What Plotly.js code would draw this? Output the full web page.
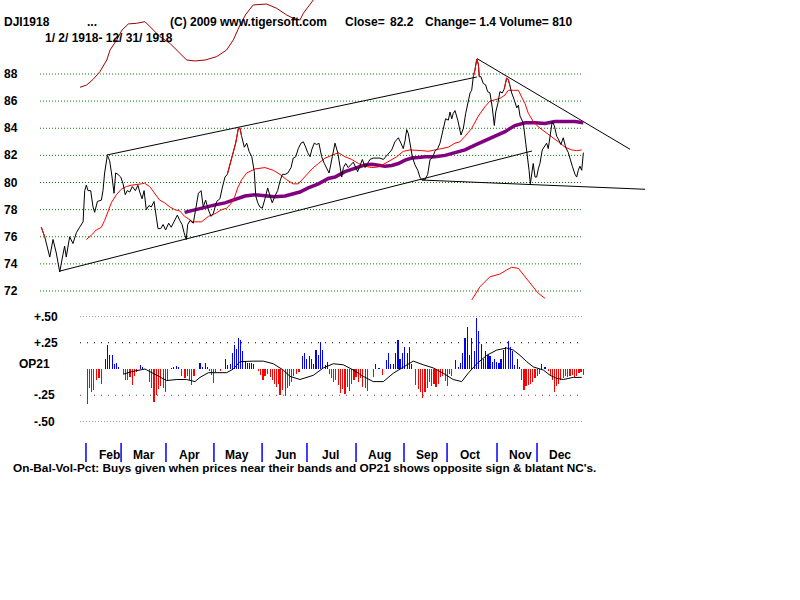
<!DOCTYPE html>
<html>
<head>
<meta charset="utf-8">
<script src="https://cdn.plot.ly/plotly-3.0.1.min.js"></script>
<style>html,body{margin:0;padding:0;background:#fff;}#chart{width:800px;height:600px;}</style>
</head>
<body>
<div id="chart"></div>
<script>
// ---- DATA (x = trading-day number in 1918, 0 = Jan 2) ----
const priceDay = [0.7,2.6,5.4,7.2,9.0,10.9,12.7,13.6,14.5,16.4,
18.2,20.1,21.9,23.8,24.7,25.6,26.5,28.0,29.3,30.2,
31.7,33.9,34.8,35.7,37.2,38.5,39.8,40.9,41.8,43.1,
44.6,45.9,47.1,48.2,49.6,51.0,52.7,54.1,55.1,56.4,
57.5,58.7,60.2,61.5,63.0,64.3,65.2,66.7,68.0,69.4,
71.1,72.5,74.4,75.9,77.2,78.5,79.6,80.8,81.6,82.9,
84.7,86.6,87.5,89.0,90.2,91.5,93.0,94.5,95.7,97.6,
99.4,100.7,102.2,103.5,105.0,106.8,108.1,109.6,110.5,111.4,
112.9,114.2,115.5,117.0,118.4,119.2,120.3,121.5,122.8,124.3,
125.8,127.1,128.3,129.8,131.3,132.6,133.9,135.4,136.9,138.7,
139.9,141.3,142.7,144.2,145.5,146.8,147.9,149.2,150.1,151.5,
152.9,154.1,155.6,157.1,158.4,159.7,161.5,163.0,164.5,165.7,
166.7,167.6,168.9,170.3,171.8,173.1,175.5,176.8,178.1,179.6,
181.0,182.3,184.1,187.8,189.7,191.0,194.3,196.1,198.0,199.4,
200.7,201.7,202.6,203.5,205.7,207.2,208.7,209.9,210.9,212.7,
214.2,215.5,216.7,218.2,219.7,221.0,222.3,223.4,224.1,225.6,
226.5,227.5,228.3,229.3,230.8,232.6,233.9,235.2,236.6,237.6,
238.5,239.4,240.3,241.3,242.2,242.7,243.6,244.9,246.2,247.3,
248.6,249.9,251.0,251.8,252.9,254.1,255.4,256.5,257.8,258.7,
259.7,260.6,262.0,263.4,264.3,265.2,267.0,268.3,269.4,270.2,
270.9,271.7,272.5,273.5,274.4,275.3,276.2,277.5,278.6,279.9,
280.8,281.8,283.0,284.1,285.5,286.4,287.8,289.1,290.4,291.9,
292.8,294.1,295.6,296.5,297.4,298.3,299.3,300.2];
const price = [76.7,76.0,74.5,75.8,74.8,73.4,74.7,75.3,74.5,76.0,
75.5,76.3,76.7,77.1,79.4,79.8,79.4,79.4,78.2,77.8,
78.6,78.7,79.4,80.7,82.0,81.6,80.4,79.2,80.7,80.6,
80.4,79.9,79.1,79.4,79.3,79.7,79.4,79.8,79.3,78.8,
79.4,78.0,78.3,78.2,78.6,77.6,76.6,76.6,76.9,76.5,
77.0,76.7,77.2,77.6,77.2,76.9,76.3,75.8,76.9,77.2,
77.0,78.5,79.2,79.4,78.2,78.7,78.0,77.5,77.7,78.6,
78.8,79.6,80.4,80.6,81.4,82.2,82.9,84.0,84.0,83.4,
82.6,82.9,82.3,81.9,80.8,79.0,78.5,78.2,78.1,78.8,
79.6,79.0,78.5,79.0,79.4,80.1,80.6,80.6,80.7,81.1,
81.8,81.9,82.5,82.9,83.0,82.6,82.2,81.9,82.4,82.9,
82.8,82.9,81.9,81.4,81.1,80.7,81.9,82.9,82.2,81.3,
80.4,81.1,81.4,81.1,81.3,81.5,80.8,81.2,81.7,81.1,
81.4,81.7,81.8,81.8,81.7,81.9,82.4,83.0,83.3,82.9,
82.5,83.1,83.9,83.6,81.9,81.3,80.9,80.4,80.2,80.2,
80.6,81.7,81.8,82.3,82.5,82.9,83.6,84.4,84.7,84.6,
85.2,84.7,85.1,85.3,84.6,83.5,84.0,85.1,86.1,86.6,
86.8,87.8,88.3,89.1,88.7,87.8,87.8,87.3,87.2,86.7,
86.6,85.5,84.2,85.2,85.8,86.7,86.6,86.9,87.7,87.6,
87.1,86.6,86.1,85.5,85.7,84.9,84.4,83.1,81.9,80.9,
79.9,80.7,81.4,80.4,80.4,81.0,81.4,82.4,82.6,82.9,
82.5,83.4,84.5,84.2,83.4,83.2,82.8,83.3,82.6,82.2,
81.7,81.2,80.6,80.4,80.9,81.2,80.9,82.2];
// periods where the close is drawn in red (outside the band)
const redPeriods = [[0.7,2.6],[103.5,111.4],[239.4,242.7],[256.5,259.7]];

const ma21Day = [25.6,28.3,31.1,33.9,35.7,37.6,39.4,42.2,44.9,47.7,
50.4,56.0,57.8,60.6,63.4,66.1,68.9,71.7,74.4,77.2,
79.9,84.5,89.3,93.0,96.7,100.4,103.1,105.9,107.7,109.2,
111.4,114.2,118.8,124.3,128.9,132.6,136.3,139.9,142.7,145.5,
148.2,151.0,153.8,157.5,161.2,164.8,168.5,172.2,175.9,179.6,
183.3,186.9,190.6,194.3,197.1,200.7,204.4,210.9,214.5,218.2,
221.9,225.6,229.3,232.0,234.8,238.5,242.2,245.9,248.6,251.4,
254.1,256.9,258.7,261.5,264.3,266.1,268.0,269.8,272.5,275.3,
279.0,282.7,286.4,290.1,293.8,296.5,299.3];
const ma21 = [75.8,76.1,76.5,76.7,77.2,77.8,78.5,79.1,79.5,79.7,
79.8,79.9,79.95,79.7,79.2,78.7,78.5,78.2,78.0,77.9,
77.5,77.1,77.1,77.5,77.7,78.0,78.1,78.5,79.0,79.6,
80.2,80.7,81.0,81.1,80.9,80.6,80.2,79.9,79.9,80.3,
80.7,81.1,81.4,81.8,82.0,82.2,81.9,81.7,81.4,81.2,
81.1,81.15,81.4,81.7,81.9,82.3,82.4,82.35,82.3,82.4,
82.5,82.6,82.9,83.0,83.4,84.0,84.9,85.6,86.0,86.1,
86.2,86.45,86.8,86.8,86.8,86.3,85.8,85.1,84.5,84.1,
83.75,83.4,83.0,82.6,82.4,82.35,82.4];

const ma50Day = [79.9,85.6,91.2,96.7,102.2,107.7,113.3,118.8,124.3,129.8,
135.4,139.1,143.6,148.2,153.8,159.3,163.0,168.5,174.0,179.6,
183.3,186.9,190.6,194.3,198.0,201.7,205.4,209.0,212.7,218.2,
223.8,229.3,234.8,240.3,245.9,251.4,256.9,262.4,268.0,273.5,
279.0,284.5,290.1,295.6,300.2];
const ma50 = [77.8,78.0,78.15,78.35,78.5,78.75,79.0,79.1,79.0,78.95,
79.0,79.15,79.3,79.6,79.9,80.3,80.4,80.8,81.05,81.3,
81.35,81.3,81.2,81.25,81.4,81.65,81.8,81.85,81.9,81.9,
82.0,82.2,82.4,82.75,83.1,83.4,83.75,84.2,84.4,84.4,
84.35,84.5,84.5,84.5,84.4];

// band curves that run off the price scale
const upperBandDay = [22.1,25.8,29.4,33.1,36.9,38.7,42.4,45.3,48.8,53.4,
58.0,61.7,66.3,71.8,78.3,81.0,85.6,91.2,97.6,103.1,
106.8,110.5,113.8,117.8,125.2,130.8,136.3,139.9,143.6,145.5,
151.0,154.7];
const upperBand = [87.02,87.19,87.61,88.17,89.03,89.77,90.51,91.24,91.69,91.74,
91.86,91.37,90.75,90.26,89.40,89.03,88.96,89.03,89.28,89.77,
90.51,91.61,92.42,93.09,93.16,92.84,92.35,92.11,91.98,92.48,
93.46,94.2];
const lowerBandDay = [238.5,243.1,248.6,254.1,257.8,260.6,264.3,268.0,271.7,275.3,279.0];
const lowerBand = [71.33,72.32,73.05,73.25,73.55,73.75,73.67,73.05,72.44,71.83,71.46];

// trend lines: [day0, day1], [value0, value1]
const trendDays = [[37.0,241.4],[11.0,271.8],[241.4,326.0],[211.0,334.3]];
const trendVals = [[82.03,87.78],[73.47,82.32],[89.14,82.45],[80.18,79.5]];

// OP21 indicator
const opDay = [26.1,27.2,28.6,29.8,31.3,32.6,33.9,36.1,37.2,38.5,
39.8,41.0,42.2,43.5,46.0,47.1,48.5,49.7,51.0,52.1,
53.4,55.6,56.7,60.4,61.7,63.0,64.3,65.6,66.7,68.0,
69.2,70.3,72.8,74.0,75.3,76.6,78.3,80.1,81.4,82.5,
83.8,85.1,88.4,89.9,91.2,92.4,93.5,94.9,96.0,97.2,
99.8,102.4,103.7,105.0,106.2,107.3,108.7,109.8,110.9,112.0,
113.3,114.4,115.6,117.0,118.2,120.6,121.9,123.2,124.3,125.8,
127.1,128.3,129.4,130.8,131.9,132.6,134.1,135.4,136.6,137.7,
139.1,140.3,141.8,143.1,144.9,146.2,147.4,148.8,150.1,151.2,
152.5,153.8,154.9,156.2,157.5,158.6,159.8,161.2,162.4,163.5,
164.8,166.1,167.2,168.5,169.8,170.9,172.2,173.5,174.6,175.9,
177.2,178.3,179.6,180.8,184.1,185.5,186.9,187.8,189.1,191.2,
192.4,193.8,195.2,196.5,197.8,198.9,200.2,201.5,202.8,204.0,
205.4,207.7,209.0,210.3,211.4,212.7,214.0,215.1,216.4,217.7,
218.8,220.1,221.4,222.5,223.8,225.0,226.1,227.5,229.8,231.1,
232.2,233.5,234.8,236.1,237.2,238.5,239.8,241.3,242.5,243.8,
244.9,246.2,247.5,248.6,249.9,251.0,252.3,253.6,254.7,256.0,
257.3,258.6,259.7,260.9,262.4,263.7,264.8,266.1,267.4,268.5,
269.8,271.1,272.2,273.5,274.8,276.1,277.2,279.0,280.8,282.2,
283.3,284.1,285.5,286.7,287.8,289.1,290.4,291.5,292.8,294.1,
295.2,296.5,297.8,298.9,300.2];
const op21 = [-0.33,-0.18,-0.22,-0.20,-0.10,-0.09,-0.14,0.10,0.23,0.13,
0.13,0.05,0.06,0.02,-0.05,-0.10,-0.10,-0.08,-0.15,-0.07,
-0.03,0.04,0.02,-0.12,-0.18,-0.31,-0.25,-0.19,-0.16,-0.18,
-0.22,-0.10,0.01,0.02,0.03,0.02,-0.07,-0.09,-0.07,-0.10,
-0.15,-0.07,0.06,0.02,0.06,0.02,-0.02,-0.06,-0.13,-0.03,
-0.02,0.10,0.04,0.05,0.15,0.23,0.19,0.30,0.28,0.17,
0.07,0.06,0.06,0.06,0.05,-0.02,-0.06,-0.10,-0.07,-0.05,
-0.08,-0.10,-0.14,-0.17,-0.14,-0.25,-0.20,-0.26,-0.18,-0.16,
-0.12,-0.07,-0.05,-0.03,0.12,0.15,0.10,0.12,0.10,0.05,
0.18,0.13,0.26,0.18,0.04,0.07,-0.05,-0.09,-0.12,-0.10,
-0.15,-0.23,-0.19,-0.24,-0.17,-0.21,-0.14,-0.10,-0.08,-0.12,
-0.09,-0.17,-0.18,-0.21,-0.08,0.05,0.01,0.01,-0.06,0.09,
0.15,0.05,0.05,0.15,0.28,0.10,0.15,0.21,0.15,0.21,
0.05,-0.15,-0.19,-0.22,-0.28,-0.22,-0.18,-0.12,-0.16,-0.14,
-0.17,-0.14,-0.08,-0.07,-0.11,-0.16,-0.05,-0.07,0.09,0.02,
0.06,0.15,0.30,0.40,0.13,0.30,0.17,0.49,0.36,0.24,
0.10,0.17,0.13,0.12,0.07,0.10,0.07,0.06,0.10,0.18,
0.21,0.27,0.21,0.17,0.04,0.10,0.02,-0.10,-0.20,-0.16,
-0.15,-0.14,-0.12,-0.09,-0.07,-0.05,0.05,0.02,-0.02,-0.06,
-0.10,-0.22,-0.16,-0.14,-0.10,-0.09,-0.07,-0.08,-0.07,-0.06,
-0.08,-0.07,-0.04,-0.03,-0.06];
const opMaDay = [46.0,50.7,58.0,64.5,70.0,75.5,81.0,85.6,88.4,93.0,
97.6,103.1,106.8,110.5,117.8,123.4,128.9,134.4,138.1,143.6,
151.0,156.5,162.0,167.6,173.1,178.6,184.1,189.7,195.2,200.7,
206.2,211.8,217.3,222.8,228.3,233.0,236.6,241.3,246.8,252.3,
257.8,261.5,265.2,268.9,272.5,278.1,281.8,285.5,289.1,294.6,
299.3];
const opMa = [-0.05,-0.025,0.0,-0.06,-0.11,-0.10,-0.10,-0.12,-0.08,-0.035,
-0.035,-0.035,0.0,0.07,0.075,0.075,0.05,-0.01,-0.07,-0.10,
-0.06,0.01,0.05,0.04,-0.01,-0.07,-0.12,-0.12,-0.04,0.02,
0.075,0.04,0.01,-0.04,-0.10,-0.12,-0.04,0.05,0.13,0.18,
0.20,0.18,0.13,0.07,0.02,-0.01,-0.06,-0.09,-0.10,-0.08,
-0.08];

const monthNames = ['Feb','Mar','Apr','May','Jun','Jul','Aug','Sep','Oct','Nov','Dec'];
const monthStartDay = [25.4,44.8,69.6,96.1,122.7,147.5,174.6,201.1,224.9,252.5,274.6];
const priceTicks = [72,74,76,78,80,82,84,86,88];
const opTicks = [0.5,0.25,-0.25,-0.5];
const opTickText = ['+.50','+.25','-.25','-.50'];
const firstDay = 0, lastDay = 300, opFirstDay = 22.1;

const headerTexts = ['DJI1918','...','(C) 2009 www.tigersoft.com','Close=','82.2','Change= 1.4 Volume= 810'];
const dateRange = '1/ 2/ 1918- 12/ 31/ 1918';
const footer = "On-Bal-Vol-Pct: Buys given when prices near their bands and OP21 shows opposite sign & blatant NC's.";

// ---- LAYOUT HELPERS ----
const W = 800, H = 600;
const px = v => v / W;
const py = v => 1 - v / H;
const FONT = 'Liberation Sans, Arial, sans-serif';

const inRed = d => redPeriods.some(p => d >= p[0] && d <= p[1]);
const priceRed = price.map((v, i) => inRed(priceDay[i]) ? v : null);

const traces = [];
trendDays.forEach((d, i) => traces.push({x: d, y: trendVals[i], type: 'scatter', mode: 'lines',
  line: {color: '#000', width: 1}}));
traces.push({x: upperBandDay, y: upperBand, type: 'scatter', mode: 'lines', line: {color: '#a00000', width: 1}});
traces.push({x: lowerBandDay, y: lowerBand, type: 'scatter', mode: 'lines', line: {color: '#ff0000', width: 1}});
traces.push({x: ma50Day, y: ma50, type: 'scatter', mode: 'lines', line: {color: '#800080', width: 3.5}});
traces.push({x: ma21Day, y: ma21, type: 'scatter', mode: 'lines', line: {color: '#ff0000', width: 1}});
traces.push({x: priceDay, y: price, type: 'scatter', mode: 'lines', line: {color: '#000', width: 1}});
traces.push({x: priceDay, y: priceRed, type: 'scatter', mode: 'lines', connectgaps: false, line: {color: '#ff0000', width: 1}});
traces.push({x: opDay, y: op21, type: 'bar', yaxis: 'y2', width: 0.6,
  marker: {color: op21.map(v => v >= 0 ? '#0000ff' : '#ff0000'), line: {width: 0}}});
traces.push({x: opMaDay, y: opMa, type: 'scatter', mode: 'lines', yaxis: 'y2', line: {color: '#000', width: 1}});

const shapes = [];
priceTicks.forEach(t => shapes.push({type: 'line', layer: 'below', xref: 'x', yref: 'y', x0: firstDay, x1: lastDay, y0: t, y1: t,
  line: {color: '#008000', width: 1, dash: '1px,2px'}}));
opTicks.forEach(t => {
  const major = Math.abs(t) === 0.5;
  shapes.push({type: 'line', layer: 'below', xref: 'x', yref: 'y2', x0: opFirstDay, x1: lastDay, y0: t, y1: t,
    line: {color: major ? '#a0a0a0' : (t > 0 ? '#000000' : '#a03030'), width: 1, dash: major ? '1px,2px' : '1px,6px'}});
});
monthStartDay.forEach(d => shapes.push({type: 'line', xref: 'x', yref: 'paper', x0: d, x1: d, y0: py(462), y1: py(443),
  line: {color: '#0000ff', width: 1.5}}));

const ann = [];
const txt = (text, x, y, anchor, size) => ({text: '<b>' + text + '</b>', xref: 'paper', yref: 'paper',
  x: px(x), y: py(y), xanchor: anchor || 'left', yanchor: 'middle', showarrow: false,
  font: {family: FONT, size: size || 12, color: '#000'}});
const headerX = [2, 85, 168, 343, 388, 423];
headerTexts.forEach((t, i) => ann.push(txt(t, headerX[i], 22)));
ann.push(txt(dateRange, 43, 38));
ann.push(txt(footer, 11, 468, 'left', 11.8));
priceTicks.forEach(t => ann.push(Object.assign(txt(String(t), 20, 0, 'right'), {yref: 'y', y: t})));
opTicks.forEach((t, i) => ann.push(Object.assign(txt(opTickText[i], 32, 0, 'left'), {yref: 'y2', y: t})));
ann.push(Object.assign(txt('OP21', 17, 0, 'left'), {yref: 'y2', y: 0, yshift: 5}));
monthNames.forEach((m, i) => ann.push(Object.assign(txt(m, 0, 455, 'center'), {xref: 'x', x: monthStartDay[i] + 12.8})));

const layout = {
  width: W, height: H, margin: {l: 0, r: 0, t: 0, b: 0},
  paper_bgcolor: '#fff', plot_bgcolor: 'rgba(0,0,0,0)', showlegend: false, bargap: 0,
  xaxis: {domain: [px(40), 1], range: [0, (W - 40) / 1.81], visible: false, fixedrange: true},
  yaxis: {domain: [py(300), 1], range: [71.336, 93.456], visible: false},
  yaxis2: {domain: [py(430), py(305)], range: [(369 - 430) / 105, (369 - 305) / 105], visible: false, anchor: 'x'},
  shapes: shapes, annotations: ann, hovermode: false
};
Plotly.newPlot('chart', traces, layout, {staticPlot: true});
</script>
</body>
</html>
